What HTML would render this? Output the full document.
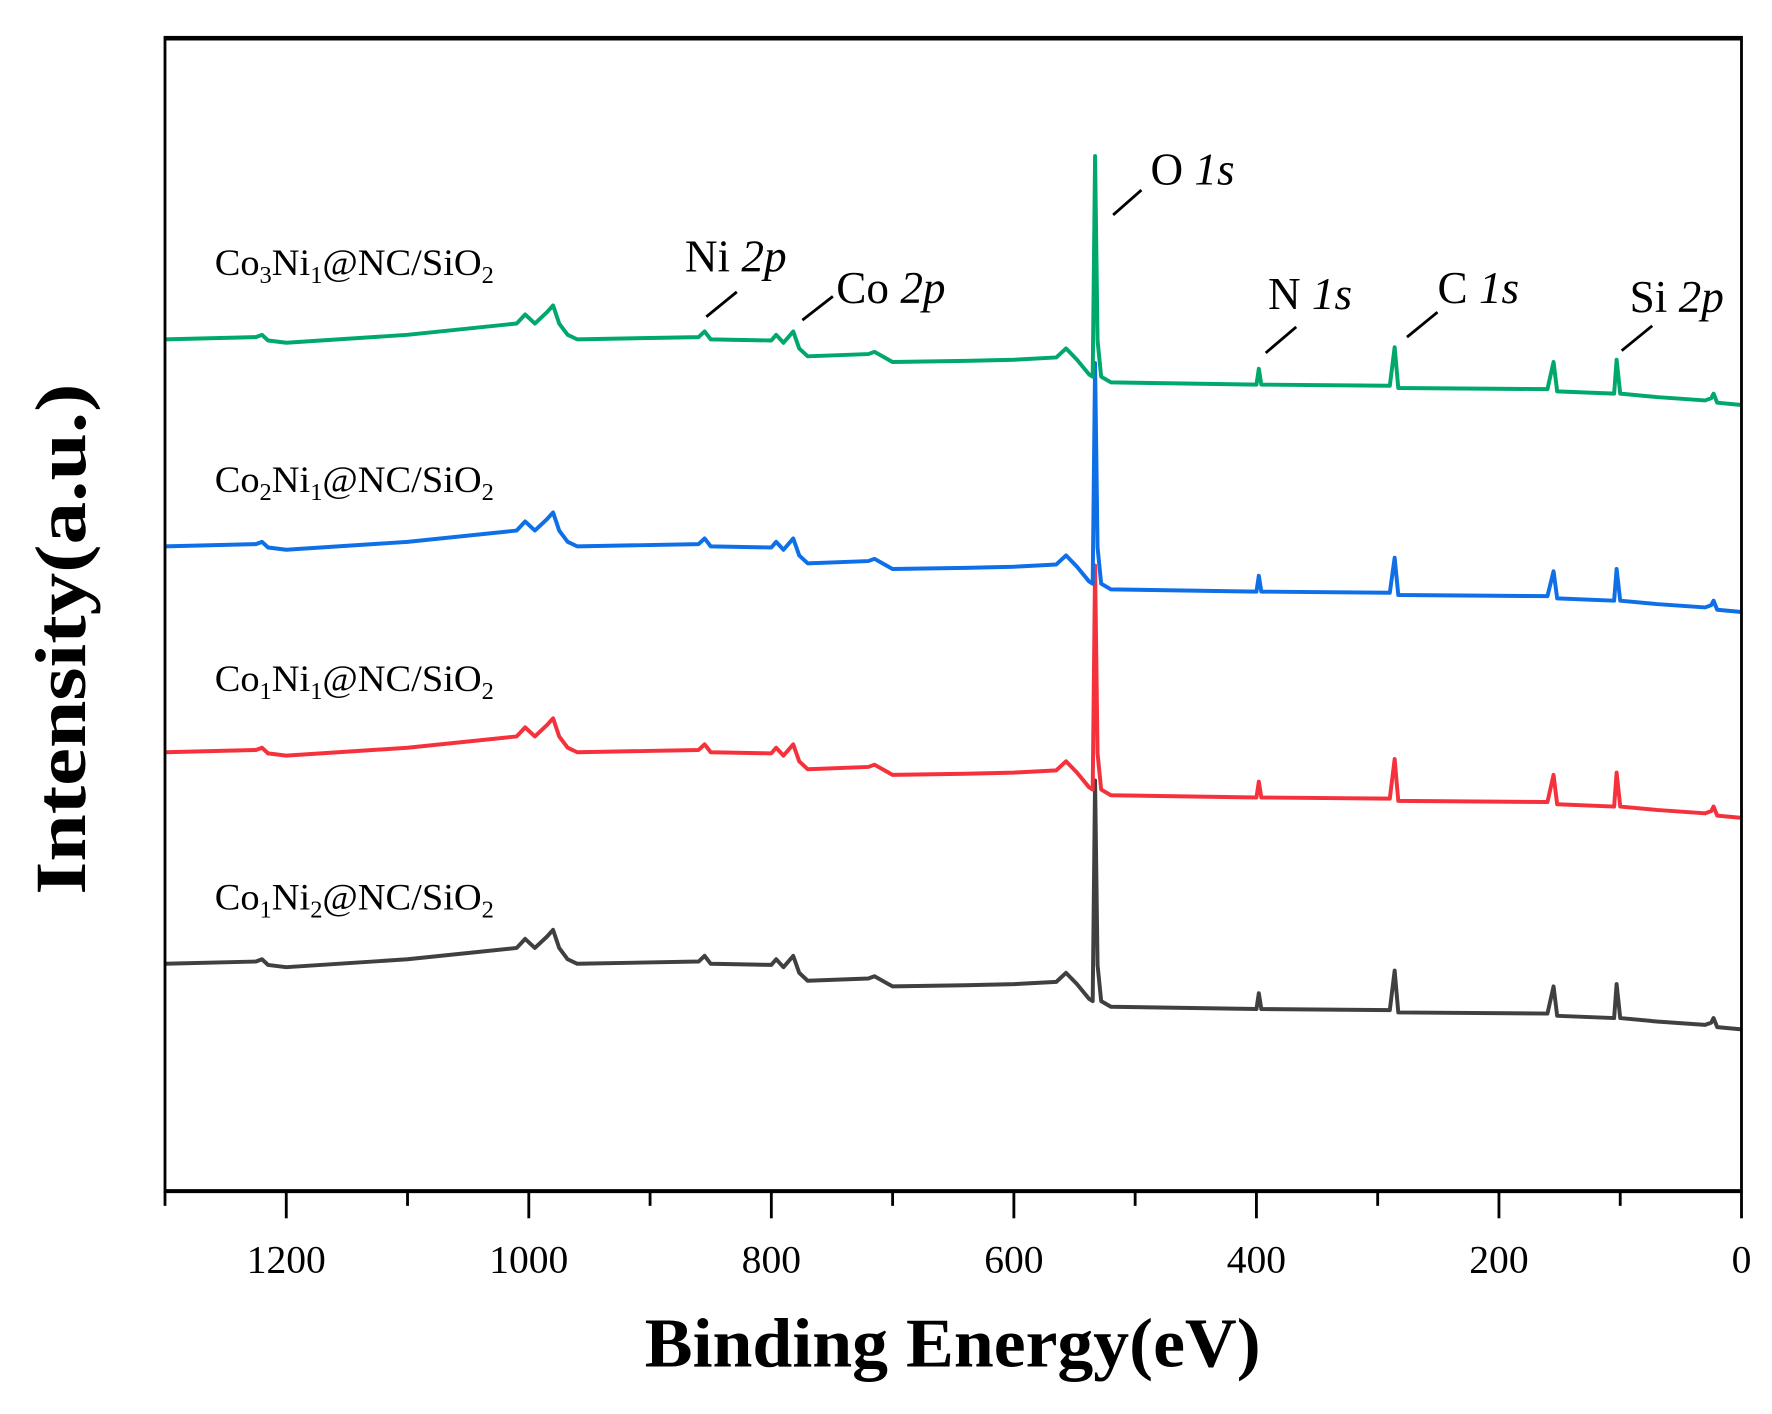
<!DOCTYPE html>
<html><head><meta charset="utf-8"><style>
html,body{margin:0;padding:0;background:#fff;}
svg{display:block;}
text{font-family:"Liberation Serif",serif;}
</style></head><body>
<svg id="chart" width="1772" height="1414" viewBox="0 0 1568 1250" preserveAspectRatio="none" xmlns="http://www.w3.org/2000/svg">
<g id="series"></g>
<rect x="146" y="33" width="1395" height="1020" fill="none" stroke="#000" stroke-width="2.5"/>
<line x1="146" y1="1053" x2="1541" y2="1053" stroke="#000" stroke-width="3.5"/>
<line x1="146" y1="34" x2="1541" y2="34" stroke="#000" stroke-width="3.5"/>
<g id="ticks"></g>
<text x="843" y="1208" font-size="62" font-weight="bold" text-anchor="middle" textLength="545" lengthAdjust="spacingAndGlyphs">Binding Energy(eV)</text>
<text transform="translate(75,565) rotate(-90)" font-size="64" font-weight="bold" text-anchor="middle" textLength="452" lengthAdjust="spacingAndGlyphs">Intensity(a.u.)</text>
<g font-size="40" fill="#000" stroke="none">
<text x="1018" y="163">O <tspan font-style="italic">1s</tspan></text>
<text x="606" y="240">Ni <tspan font-style="italic">2p</tspan></text>
<text x="740" y="268">Co <tspan font-style="italic">2p</tspan></text>
<text x="1122" y="273">N <tspan font-style="italic">1s</tspan></text>
<text x="1272" y="268">C <tspan font-style="italic">1s</tspan></text>
<text x="1442" y="276">Si <tspan font-style="italic">2p</tspan></text>
<g stroke="#000" stroke-width="2.5">
<line x1="985" y1="190" x2="1010" y2="168"/>
<line x1="625" y1="280" x2="652" y2="258"/>
<line x1="710" y1="283" x2="737" y2="262"/>
<line x1="1120" y1="312" x2="1147" y2="289"/>
<line x1="1245" y1="298" x2="1272" y2="276"/>
<line x1="1435" y1="310" x2="1462" y2="288"/>
</g></g>
<g font-size="33" fill="#000">
<text x="190" y="243" textLength="247" lengthAdjust="spacingAndGlyphs">Co<tspan font-size="21" dy="7">3</tspan><tspan dy="-7">Ni</tspan><tspan font-size="21" dy="7">1</tspan><tspan dy="-7">@NC/SiO</tspan><tspan font-size="21" dy="7">2</tspan></text>
<text x="190" y="435" textLength="247" lengthAdjust="spacingAndGlyphs">Co<tspan font-size="21" dy="7">2</tspan><tspan dy="-7">Ni</tspan><tspan font-size="21" dy="7">1</tspan><tspan dy="-7">@NC/SiO</tspan><tspan font-size="21" dy="7">2</tspan></text>
<text x="190" y="611" textLength="247" lengthAdjust="spacingAndGlyphs">Co<tspan font-size="21" dy="7">1</tspan><tspan dy="-7">Ni</tspan><tspan font-size="21" dy="7">1</tspan><tspan dy="-7">@NC/SiO</tspan><tspan font-size="21" dy="7">2</tspan></text>
<text x="190" y="804" textLength="247" lengthAdjust="spacingAndGlyphs">Co<tspan font-size="21" dy="7">1</tspan><tspan dy="-7">Ni</tspan><tspan font-size="21" dy="7">2</tspan><tspan dy="-7">@NC/SiO</tspan><tspan font-size="21" dy="7">2</tspan></text>
</g>
</svg>
<script>
const energies = [1300,1225,1220,1215,1200,1100,1010,1003,995,985,980,975,968,960,860,855,850,800,796,790,782,777,770,720,715,700,640,600,565,557,548,538,535,533,531,528,520,400,398,396,290,286,283,160,155,152,105,103,100,70,30,25,23,20,0];
const co1ni2 = [201,203,205,200,198,205,215,223,215,225,231,215,205,201,203,208,201,200,205,198,208,193,186,188,190,181,182,183,185,193,183,170,168,363,200,168,163,161,175,161,160,195,158,157,181,155,153,183,153,150,147,149,153,145,143];
const co1ni1 = [388,390,392,387,385,392,402,410,402,412,418,402,392,388,390,395,388,387,392,385,395,380,373,375,377,368,369,370,372,380,370,357,355,553,387,355,350,348,362,348,347,382,345,344,368,342,340,370,340,337,334,336,340,332,330];
const co2ni1 = [570,572,574,569,567,574,584,592,584,594,600,584,574,570,572,577,570,569,574,567,577,562,555,557,559,550,551,552,554,562,552,539,537,732,569,537,532,530,544,530,529,560,527,526,548,524,522,550,522,519,516,518,522,514,512];
const co3ni1 = [753,755,757,752,750,757,767,775,767,777,783,767,757,753,755,760,753,752,757,750,760,745,738,740,742,733,734,735,737,745,735,722,720,915,752,720,715,713,727,713,712,746,710,709,733,707,705,735,705,702,699,701,705,697,695];
const seriesNames = ['co1ni2','co1ni1','co2ni1','co3ni1'];
const seriesColors = ['#404040','#f5323c','#0f6fe6','#00a86b'];
const seriesData = [co1ni2,co1ni1,co2ni1,co3ni1];
const xTicks = [1200,1000,800,600,400,200,0];
const xMinor = [1300,1100,900,700,500,300,100];
const x = e => 146 + (1300 - e) * (1395/1300);
const y = v => 1053 - v;
const NS='http://www.w3.org/2000/svg';
const sg=document.getElementById('series');
seriesData.forEach((arr,i)=>{
  const p=document.createElementNS(NS,'path');
  p.setAttribute('d',arr.map((v,j)=>(j?'L':'M')+x(energies[j]).toFixed(1)+','+y(v).toFixed(1)).join(''));
  p.setAttribute('fill','none');p.setAttribute('stroke',seriesColors[i]);
  p.setAttribute('stroke-width','3.5');p.setAttribute('stroke-linejoin','round');
  
  
  sg.appendChild(p);
});
const tg=document.getElementById('ticks');
xTicks.forEach(t=>{
  const l=document.createElementNS(NS,'line');
  l.setAttribute('x1',x(t));l.setAttribute('x2',x(t));l.setAttribute('y1',1053);l.setAttribute('y2',1077);
  l.setAttribute('stroke','#000');l.setAttribute('stroke-width','2.5');
  
  
  tg.appendChild(l);
  const tx=document.createElementNS(NS,'text');
  tx.setAttribute('x',x(t));tx.setAttribute('y',1125);tx.setAttribute('font-size','35');tx.setAttribute('text-anchor','middle');
  tx.textContent=t;
  
  
  tg.appendChild(tx);
});
xMinor.forEach(t=>{
  const l=document.createElementNS(NS,'line');
  l.setAttribute('x1',x(t));l.setAttribute('x2',x(t));l.setAttribute('y1',1053);l.setAttribute('y2',1066);
  l.setAttribute('stroke','#000');l.setAttribute('stroke-width','2.5');
  
  
  tg.appendChild(l);
});
</script>
</body></html>
